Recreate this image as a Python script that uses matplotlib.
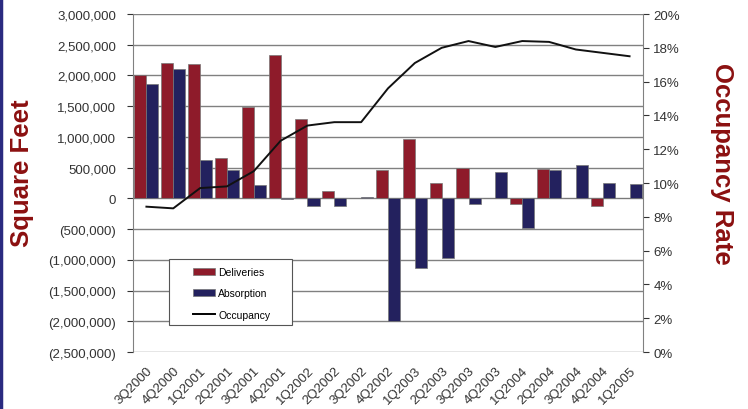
import numpy as np
import matplotlib
matplotlib.use("Agg")
from matplotlib import pyplot as plt
from matplotlib.ticker import FuncFormatter
from matplotlib.patches import Patch, Rectangle
from matplotlib.lines import Line2D

quarters = ["3Q2000", "4Q2000", "1Q2001", "2Q2001", "3Q2001", "4Q2001", "1Q2002",
            "2Q2002", "3Q2002", "4Q2002", "1Q2003", "2Q2003", "3Q2003", "4Q2003",
            "1Q2004", "2Q2004", "3Q2004", "4Q2004", "1Q2005"]
deliveries = [2000000, 2200000, 2190000, 660000, 1480000, 2330000, 1290000,
              125000, 0, 460000, 965000, 245000, 490000, 0,
              -95000, 480000, 0, -120000, 0]
absorption = [1860000, 2110000, 630000, 457000, 217000, -10000, -120000,
              -120000, 16000, -2000000, -1140000, -977000, -93000, 428000,
              -489000, 461000, 547000, 244000, 228000]
occupancy = [8.6, 8.5, 9.7, 9.8, 10.7, 12.5, 13.4, 13.6, 13.6, 15.6,
             17.1, 18.0, 18.4, 18.05, 18.4, 18.35, 17.9, 17.7, 17.5]

red = "#8e1b2a"
navy = "#23215e"
label_red = "#8b1010"

plt.rcParams['font.family'] = ['Liberation Sans', 'DejaVu Sans']

fig = plt.figure(figsize=(7.48, 4.10), dpi=100)
ax = fig.add_axes([0.1778, 0.139, 0.6818, 0.8244])

x = np.arange(len(quarters))
w = 0.45
ax.bar(x - w / 2, deliveries, w, color=red, edgecolor="#777777", linewidth=0.5, zorder=3)
ax.bar(x + w / 2, absorption, w, color=navy, edgecolor="#777777", linewidth=0.5, zorder=3)

ax.set_xlim(-0.5, len(quarters) - 0.5)
ax.set_ylim(-2500000, 3000000)
ax.set_yticks(np.arange(-2500000, 3000001, 500000))

def money(v, pos):
    if v < 0:
        return "({:,.0f})".format(-v)
    return "{:,.0f}".format(v)

ax.yaxis.set_major_formatter(FuncFormatter(money))
ax.grid(axis="y", color="#808080", linewidth=1, zorder=0)
ax.set_xticks(x)
ax.set_xticklabels(quarters, rotation=45, ha="right", rotation_mode="anchor")
ax.tick_params(axis="both", labelsize=9.5, colors="#333333", length=4)
ax.tick_params(axis="y", pad=8)
ax.tick_params(axis="x", length=0, pad=9)
for s in ["top", "right"]:
    ax.spines[s].set_visible(False)
ax.spines["left"].set_color("#808080")
ax.spines["bottom"].set_visible(False)

ax2 = ax.twinx()
ax2.plot(x, occupancy, color="#111111", linewidth=1.4, zorder=4)
ax2.set_ylim(0, 20)
ax2.set_yticks(np.arange(0, 21, 2))
ax2.yaxis.set_major_formatter(FuncFormatter(lambda v, p: "{:.0f}%".format(v)))
ax2.tick_params(axis="y", labelsize=9.5, colors="#333333", length=4)
for s in ["top", "left", "bottom"]:
    ax2.spines[s].set_visible(False)
ax2.spines["right"].set_color("#808080")

fig.text(0.029, 0.578, "Square Feet", rotation=90, ha="center", va="center",
         fontsize=18.5, fontweight="bold", color=label_red)
fig.text(0.965, 0.60, "Occupancy Rate", rotation=-90, ha="center", va="center",
         fontsize=18.5, fontweight="bold", color=label_red)

# legend box drawn separately, it is wider than its content
ax2.add_patch(Rectangle((0.0706, 0.080), 0.2412, 0.195, transform=ax.transAxes,
                        facecolor="white", edgecolor="#555555", linewidth=0.8, zorder=5))
handles = [Patch(facecolor=red, edgecolor="#777777", linewidth=0.5),
           Patch(facecolor=navy, edgecolor="#777777", linewidth=0.5),
           Line2D([0], [0], color="black", linewidth=1.4)]
leg = ax2.legend(handles, ["Deliveries", "Absorption", "Occupancy"],
                 loc="upper left", bbox_to_anchor=(0.118, 0.252),
                 bbox_transform=ax.transAxes, fontsize=7.5, frameon=False,
                 handlelength=2.1, handleheight=0.65, labelspacing=1.1,
                 borderpad=0, handletextpad=0.3, borderaxespad=0)
leg.set_zorder(6)

fig.add_artist(Line2D([0.002, 0.002], [0, 1], color="#2a2a80", linewidth=2.5,
                      transform=fig.transFigure))

fig.savefig("out.png", dpi=100)
